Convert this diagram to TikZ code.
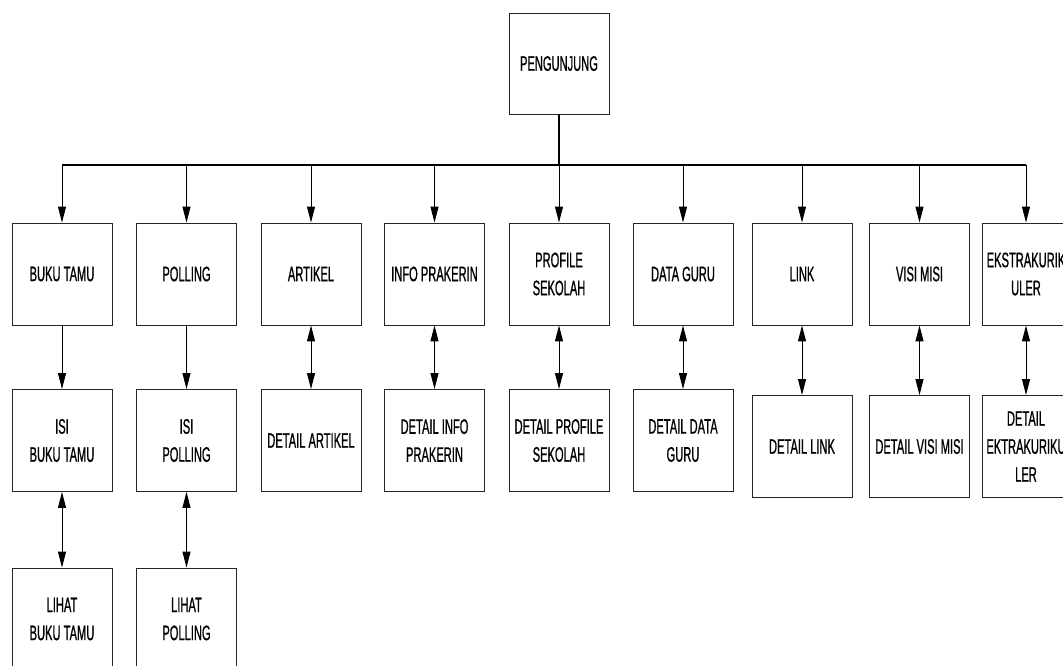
\documentclass[tikz,border=0pt]{standalone}
\usepackage{fontspec}
\newfontfamily\narrowfont[FakeStretch=0.53,FakeBold=0.8]{Liberation Sans}
\usetikzlibrary{arrows.meta}
\begin{document}
\begin{tikzpicture}[x=1pt,y=-1pt,
  box/.style={draw=black!85, line width=0.9pt, fill=white, minimum width=100pt, minimum height=102pt,
    inner sep=0pt, align=center, font=\narrowfont\fontsize{21}{28}\selectfont},
  narrowbox/.style={box, minimum width=88pt},
  conn/.style={line width=1pt, -{Triangle[length=16pt,width=8pt]}},
  dconn/.style={line width=1pt, {Triangle[length=16pt,width=8pt]}-{Triangle[length=16pt,width=8pt]}},
  bus/.style={line width=2pt}]
\useasboundingbox (0,0) rectangle (1063,665);
\fill[white] (0,0) rectangle (1063,665);

% top
\node[box, minimum height=101pt] (top) at (559,63.5) {PENGUNJUNG};

% row 1
\node[box] (bt) at (62,274) {BUKU TAMU};
\node[box] (po) at (186.5,274) {POLLING};
\node[box] (ar) at (311,274) {ARTIKEL};
\node[box] (ip) at (434.5,274) {INFO PRAKERIN};
\node[box] (ps) at (559,274) {PROFILE\\SEKOLAH};
\node[box] (dg) at (683,274) {DATA GURU};
\node[box] (li) at (802,274) {LINK};
\node[box] (vm) at (919.5,274) {VISI MISI};
\node[narrowbox] (ek) at (1026,274) {EKSTRAKURIK\\ULER};

% row 2
\node[box] (ibt) at (62,440.5) {ISI\\BUKU TAMU};
\node[box] (ipo) at (186.5,440.5) {ISI\\POLLING};
\node[box] (dar) at (311,440.5) {DETAIL ARTIKEL};
\node[box] (dip) at (434.5,440.5) {DETAIL INFO\\PRAKERIN};
\node[box] (dps) at (559,440.5) {DETAIL PROFILE\\SEKOLAH};
\node[box] (ddg) at (683,440.5) {DETAIL DATA\\GURU};
\node[box] (dli) at (802,446.5) {DETAIL LINK};
\node[box] (dvm) at (919.5,446.5) {DETAIL VISI MISI};
\node[narrowbox] (dek) at (1026,446.5) {DETAIL\\EKTRAKURIKU\\LER};

% row 3
\node[box] (lbt) at (62,619) {LIHAT\\BUKU TAMU};
\node[box] (lpo) at (186.5,619) {LIHAT\\POLLING};

% bus
\coordinate (busc) at (559,165);
\draw[bus] (top.south) -- (busc);
\draw[bus] (bt.north |- busc) -- (ek.north |- busc);
\foreach \n in {bt,po,ar,ip,ps,dg,li,vm,ek}{
  \draw[conn] (\n.north |- busc) -- (\n.north);
}

% row 1 -> row 2
\draw[conn] (bt) -- (ibt);
\draw[conn] (po) -- (ipo);
\draw[dconn] (ar) -- (dar);
\draw[dconn] (ip) -- (dip);
\draw[dconn] (ps) -- (dps);
\draw[dconn] (dg) -- (ddg);
\draw[dconn] (li) -- (dli);
\draw[dconn] (vm) -- (dvm);
\draw[dconn] (ek) -- (dek);

% row 2 -> row 3
\draw[dconn] (ibt) -- (lbt);
\draw[dconn] (ipo) -- (lpo);
\end{tikzpicture}
\end{document}
